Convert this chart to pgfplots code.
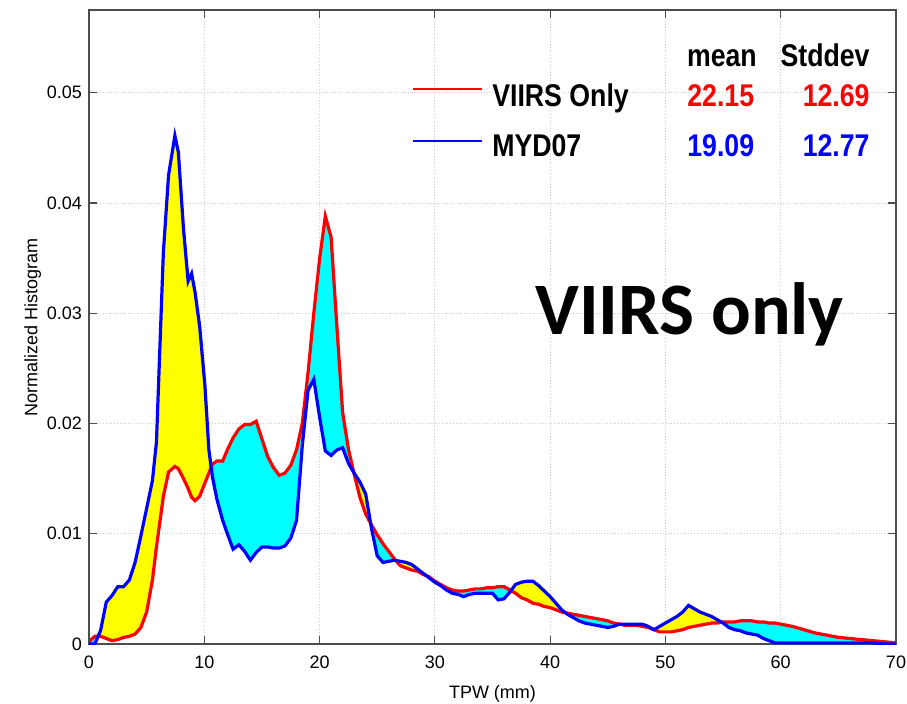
\documentclass[border=0pt]{standalone}
\usepackage{pgfplots}
\pgfplotsset{compat=1.18}
\usepgfplotslibrary{fillbetween}
\usepackage{pgfplotstable}
\usepackage{fontspec}
\setmainfont{Liberation Sans}
\newfontfamily\narrowfont{Liberation Sans}[FakeStretch=0.85]
\newfontfamily\calibri{Carlito}
\definecolor{cyanfill}{rgb}{0,1,1}
\definecolor{yellowfill}{rgb}{1,1,0}
\definecolor{pureblue}{rgb}{0,0,1}
\definecolor{purered}{rgb}{1,0,0}

\pgfplotstableread{
x r b
0 0.0002 0.0000
0.5 0.0007 0.0000
1 0.0007 0.0012
1.5 0.0005 0.0038
2 0.0003 0.0044
2.5 0.0004 0.0052
3 0.0006 0.0052
3.5 0.0007 0.0058
4 0.0009 0.0074
4.5 0.0015 0.0098
5 0.0029 0.0123
5.5 0.0058 0.0148
5.85 0.0088 0.0183
6.45 0.0134 0.0355
6.9 0.0156 0.0425
7.45 0.0161 0.0461
7.75 0.0159 0.0446
8.2 0.0150 0.0376
8.6 0.0141 0.0329
8.9 0.0133 0.0336
9.2 0.0130 0.0319
9.6 0.0134 0.0288
10.05 0.0146 0.0235
10.4 0.0155 0.0176
10.7 0.0163 0.0152
11.1 0.0166 0.0131
11.6 0.0166 0.0112
12.0 0.0176 0.0100
12.5 0.0187 0.0086
13.0 0.0195 0.0090
13.5 0.0199 0.0084
14.0 0.0199 0.0076
14.5 0.0202 0.0083
15.0 0.0186 0.0088
15.5 0.0170 0.0088
16.0 0.0160 0.0087
16.5 0.0153 0.0087
17.0 0.0155 0.0089
17.5 0.0162 0.0096
18.0 0.0176 0.0112
18.5 0.0200 0.0180
19.0 0.0246 0.0230
19.5 0.0300 0.0240
20.0 0.0349 0.0206
20.5 0.0388 0.0175
21.0 0.0369 0.0171
21.5 0.0288 0.0176
22.0 0.0210 0.0178
22.5 0.0177 0.0164
23.0 0.0154 0.0155
23.5 0.0133 0.0147
24.0 0.0118 0.0136
24.5 0.0108 0.0105
25.0 0.0099 0.0080
25.5 0.0091 0.0074
26.0 0.0084 0.0075
26.5 0.0077 0.0076
27.0 0.0071 0.0075
27.5 0.0069 0.0074
28.0 0.0067 0.0072
28.5 0.0066 0.0068
29.0 0.0063 0.0064
29.5 0.0061 0.0060
30.0 0.0057 0.0056
30.5 0.0054 0.0053
31.0 0.0051 0.0049
31.5 0.0049 0.0046
32.0 0.0048 0.0045
32.5 0.0048 0.0043
33.0 0.0049 0.0045
33.5 0.0050 0.0046
34.0 0.0050 0.0046
34.5 0.0051 0.0046
35.0 0.0051 0.0046
35.5 0.0052 0.0040
36.0 0.0052 0.0041
36.5 0.0049 0.0047
37.0 0.0046 0.0054
37.5 0.0042 0.0056
38.0 0.0040 0.0057
38.5 0.0037 0.0057
39.0 0.0036 0.0053
39.5 0.0034 0.0048
40.0 0.0033 0.0043
40.5 0.0031 0.0037
41.0 0.0029 0.0031
41.5 0.0028 0.0027
42.0 0.0027 0.0024
42.5 0.0026 0.0021
43.0 0.0025 0.0019
43.5 0.0024 0.0018
44.0 0.0023 0.0017
44.5 0.0022 0.0016
45.0 0.0021 0.0015
45.5 0.0019 0.0016
46.0 0.0018 0.0018
46.5 0.0017 0.0018
47.0 0.0017 0.0018
47.5 0.0017 0.0018
48.0 0.0016 0.0018
48.5 0.0015 0.0016
49.0 0.0013 0.0013
49.5 0.0011 0.0016
50.0 0.0011 0.0019
50.5 0.0011 0.0022
51.0 0.0012 0.0025
51.5 0.0013 0.0029
52.0 0.0015 0.0035
52.5 0.0016 0.0032
53.0 0.0017 0.0029
53.5 0.0018 0.0027
54.0 0.0019 0.0025
54.5 0.0019 0.0022
55.0 0.0020 0.0019
55.5 0.0020 0.0015
56.0 0.0020 0.0013
56.5 0.0021 0.0012
57.0 0.0021 0.0010
57.5 0.0021 0.0009
58.0 0.0020 0.0008
58.5 0.0020 0.0005
59.0 0.0019 0.0003
59.5 0.0019 0.0001
60.0 0.0018 0.0001
61 0.0016 0.0001
62 0.0013 0.0001
63 0.0010 0.0001
64 0.0008 0.0001
65 0.0006 0.0001
66 0.0005 0.0001
67 0.0004 0.0001
68 0.0003 0.0001
69 0.0002 0.0000
70 0.0001 0.0000
}\datatable

\begin{document}
\begin{tikzpicture}
\begin{axis}[
  scale only axis, width=403.5pt, height=317pt,
  xmin=0, xmax=70, ymin=0, ymax=0.0575,
  xtick={0,10,...,70}, ytick={0,0.01,0.02,0.03,0.04,0.05},
  scaled y ticks=false,
  yticklabel={\pgfmathprintnumber[fixed,precision=2]{\tick}},
  /pgf/number format/assume math mode=true,
  tick align=inside, major tick length=4pt,
  grid=major, grid style={densely dotted, gray!40, line width=0.4pt},
  axis line style={black!70, line width=0.6pt},
  tick style={black!70, line width=0.6pt},
  ticklabel style={font=\fontsize{9}{10}\selectfont},
  xticklabel style={yshift=-2.3pt},
  label style={font=\fontsize{9}{10}\selectfont},
  xlabel={TPW (mm)}, ylabel={Normalized Histogram},
  xlabel shift=1.5pt, ylabel shift=-4pt,
  clip mode=individual,
]
\addplot[draw=purered, line width=1.6pt, name path=R] table[x=x,y=r]{\datatable};
\addplot[draw=pureblue, line width=1.6pt, name path=B] table[x=x,y=b]{\datatable};
\addplot[draw=none, name path=M] table[x=x, y expr={max(\thisrow{r},\thisrow{b})}]{\datatable};
\addplot[fill=yellowfill, draw=none] fill between[of=M and R];
\addplot[fill=cyanfill, draw=none] fill between[of=M and B];

\coordinate (LRa) at (axis cs:28.1,0.0503);
\coordinate (LRb) at (axis cs:34.08,0.0503);
\coordinate (LBa) at (axis cs:28.1,0.0456);
\coordinate (LBb) at (axis cs:34.08,0.0456);

\node[anchor=base west, inner sep=0pt, font=\narrowfont\bfseries\fontsize{15.7}{18}\selectfont] at (axis cs:34.95,0.04875) {VIIRS Only};
\node[anchor=base west, inner sep=0pt, font=\narrowfont\bfseries\fontsize{15.7}{18}\selectfont] at (axis cs:34.95,0.04421) {MYD07};
\node[anchor=base, inner sep=0pt, font=\narrowfont\bfseries\fontsize{15.7}{18}\selectfont] at (axis cs:54.9,0.05239) {mean};
\node[anchor=base east, inner sep=0pt, font=\narrowfont\bfseries\fontsize{15.7}{18}\selectfont] at (axis cs:67.74,0.05239) {Stddev};
\node[anchor=base, inner sep=0pt, text=purered, font=\narrowfont\bfseries\fontsize{15.7}{18}\selectfont] at (axis cs:54.8,0.04875) {22.15};
\node[anchor=base, inner sep=0pt, text=pureblue, font=\narrowfont\bfseries\fontsize{15.7}{18}\selectfont] at (axis cs:54.8,0.04421) {19.09};
\node[anchor=base east, inner sep=0pt, text=purered, font=\narrowfont\bfseries\fontsize{15.7}{18}\selectfont] at (axis cs:67.74,0.04875) {12.69};
\node[anchor=base east, inner sep=0pt, text=pureblue, font=\narrowfont\bfseries\fontsize{15.7}{18}\selectfont] at (axis cs:67.74,0.04421) {12.77};
\node[anchor=base west, inner sep=0pt, font=\calibri\bfseries\fontsize{37}{44}\selectfont] at (axis cs:38.68,0.0281) {VIIRS only};
\end{axis}
\fill[purered] ([yshift=-0.5pt]LRa) rectangle ([yshift=0.5pt]LRb);
\fill[pureblue] ([yshift=-0.5pt]LBa) rectangle ([yshift=0.5pt]LBb);
\pgfresetboundingbox
\path ([shift={(-44.5pt,-30pt)}]current axis.south west) rectangle ([shift={(5.5pt,5pt)}]current axis.north east);
\end{tikzpicture}
\end{document}
